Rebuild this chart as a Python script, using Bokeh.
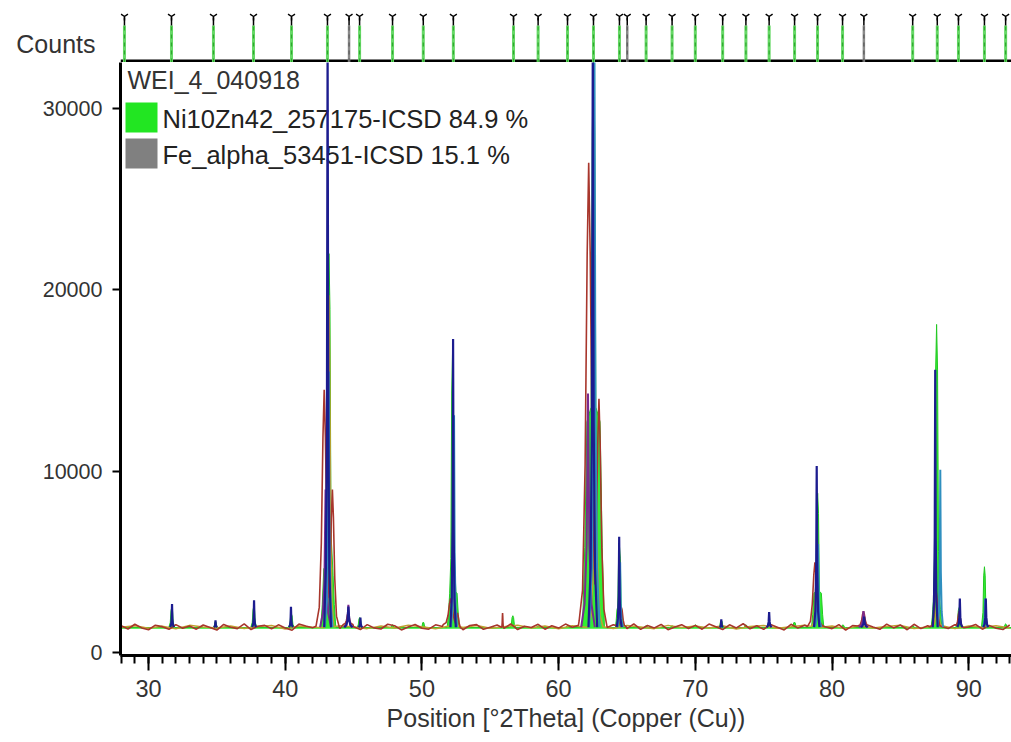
import numpy as np
from bokeh.plotting import figure
from bokeh.layouts import column
from bokeh.models import Range1d, FixedTicker
from bokeh.embed import file_html
from bokeh.resources import INLINE
from bokeh.core.properties import value

FONT = "Liberation Sans"

# ---------------- data ----------------
x_ticks = [30, 40, 50, 60, 70, 80, 90]
y_ticks = [0, 10000, 20000, 30000]
x_label = "Position [°2Theta] (Copper (Cu))"
y_label = "Counts"
scan_name = "WEI_4_040918"
phase_names = ["Ni10Zn42_257175-ICSD 84.9 %", "Fe_alpha_53451-ICSD 15.1 %"]
phase_colors = ["#22e622", "#808080"]

# reference line positions (°2Theta)
ni_ref_pos = [28.24, 31.68, 34.75, 37.68, 40.46, 43.09, 45.44, 47.85, 50.10, 52.30,
              56.70, 58.50, 60.65, 62.55, 64.45, 66.40, 68.30, 70.00, 72.00, 73.70,
              75.40, 77.26, 78.94, 80.77, 85.90, 87.70, 89.25, 91.15, 92.70]
fe_ref_pos = [44.67, 65.02, 82.33]

# calculated Ni10Zn42 profile (green fill): narrow components
green_pos = [31.70, 34.90, 37.70, 40.45, 43.20, 45.45, 47.85, 50.10, 52.24,
             56.65, 58.50, 60.65, 62.55, 64.45, 66.40, 68.30, 70.00, 71.90, 73.70,
             75.40, 77.25, 78.95, 80.80, 85.90, 87.65, 89.30, 91.15, 92.70]
green_int = [2500, 1750, 2550, 2150, 22000, 1950, 1550, 1700, 16600,
             2050, 1500, 1500, 33500, 5900, 1500, 1500, 1550, 1800, 1550,
             1700, 1700, 8800, 1550, 1500, 18100, 2500, 4750, 1600]
green_hw = [0.22, 0.18, 0.22, 0.22, 0.30, 0.22, 0.18, 0.18, 0.25,
            0.22, 0.18, 0.18, 0.35, 0.25, 0.18, 0.18, 0.18, 0.22, 0.18,
            0.22, 0.22, 0.25, 0.18, 0.18, 0.28, 0.25, 0.22, 0.18]
# broad foot components of the calculated profile
green_foot_pos = [43.15, 52.30, 62.55, 64.45, 78.95, 87.65]
green_foot_int = [5000, 3500, 14000, 2500, 3500, 3000]
green_foot_hw = [0.55, 0.45, 0.80, 0.30, 0.45, 0.40]
green_base = 1400

# observed scan (navy)
navy_pos = [31.72, 34.90, 37.72, 40.42, 43.10, 44.62, 45.50, 52.28, 62.50, 64.43,
            71.90, 75.40, 78.88, 82.35, 87.55, 89.35, 91.25]
navy_int = [2700, 1800, 2900, 2550, 34000, 2550, 1950, 17300, 34000, 6400,
            1850, 2250, 10300, 2000, 15600, 3000, 3000]
navy_hw = [0.14, 0.12, 0.14, 0.14, 0.25, 0.30, 0.14, 0.20, 0.32, 0.18,
           0.12, 0.18, 0.20, 0.25, 0.18, 0.18, 0.18]

# teal scan
teal_pos = [43.18, 52.35, 62.62, 64.50, 78.98, 87.92, 91.20]
teal_int = [15500, 13100, 34000, 5000, 6000, 10100, 3000]
teal_hw = [0.28, 0.22, 0.38, 0.20, 0.22, 0.20, 0.18]

# purple scan
purple_pos = [42.95, 44.62, 62.15, 82.30]
purple_int = [9000, 2650, 14300, 2300]
purple_hw = [0.40, 0.32, 0.50, 0.35]

# olive scan (noisy baseline, 1° steps from 28°)
olive_pos = [43.20, 52.35, 62.70, 78.85, 87.70]
olive_int = [19700, 3500, 9000, 4000, 3000]
olive_hw = [0.35, 0.35, 0.55, 0.35, 0.35]
olive_base = [1420, 1500, 1360, 1470, 1330, 1520, 1430, 1380, 1490, 1350, 1460,
              1510, 1320, 1480, 1410, 1370, 1500, 1430, 1340, 1490, 1380, 1530,
              1450, 1330, 1480, 1400, 1510, 1360, 1440, 1530, 1370, 1480, 1330,
              1500, 1410, 1460, 1350, 1510, 1430, 1340, 1520, 1400, 1480, 1370,
              1500, 1320, 1460, 1510, 1360, 1440, 1530, 1400, 1480, 1340, 1500,
              1380, 1460, 1520, 1350, 1430, 1510, 1340, 1480, 1410, 1500, 1380]

# red scan (broad peaks, noisy baseline, 0.5° steps from 28°)
red_pos = [42.85, 43.45, 44.60, 52.10, 52.60, 55.90, 62.20, 62.95, 64.60,
           78.75, 82.30, 87.60, 89.30]
red_int = [14500, 9000, 2200, 3000, 2200, 2200, 27000, 14000, 2500,
           5000, 2300, 3500, 2300]
red_hw = [0.60, 0.50, 0.35, 0.55, 0.35, 0.08, 0.75, 0.60, 0.35,
          0.55, 0.40, 0.45, 0.35]
red_base = [1500, 1320, 1580, 1380, 1280, 1530, 1450, 1300, 1560, 1360, 1490,
            1310, 1540, 1400, 1260, 1570, 1420, 1340, 1600, 1290, 1470, 1520,
            1330, 1550, 1370, 1250, 1590, 1480, 1390, 1300, 1540, 1410, 1350,
            1600, 1440, 1290, 1560, 1380, 1320, 1580, 1500, 1270, 1430, 1570,
            1360, 1310, 1550, 1460, 1610, 1340, 1280, 1510, 1560, 1300, 1420,
            1540, 1350, 1600, 1290, 1470, 1400, 1580, 1310, 1500, 1370, 1590,
            1420, 1530, 1320, 1570, 1390, 1260, 1550, 1460, 1340, 1600, 1300,
            1510, 1380, 1570, 1280, 1430, 1560, 1350, 1520, 1310, 1590, 1450,
            1290, 1550, 1380, 1610, 1330, 1500, 1300, 1570, 1420, 1270, 1580,
            1370, 1530, 1310, 1600, 1440, 1340, 1560, 1260, 1510, 1350, 1570,
            1430, 1300, 1590, 1380, 1540, 1280, 1580, 1340, 1500, 1310, 1460,
            1350, 1560, 1270, 1430, 1570, 1310, 1520, 1360, 1290, 1540]

# ---------------- layout constants ----------------
PPU = 13.67            # px per degree
X0 = 27.95
FRAME_W = 891
X1 = X0 + FRAME_W / PPU
Y0, Y1 = -140, 32530
FRAME_H = 593
PPY = FRAME_H / (Y1 - Y0)
LEFT = 120
TOP_H = 62

# peak templates (fractions of half width / height)
FX_S = [-1.0, -0.5, -0.2, 0.0, 0.2, 0.5, 1.0]
FY_S = [0.0, 0.10, 0.35, 1.0, 0.35, 0.10, 0.0]
FX_G = [-1.0, -0.6, -0.35, -0.15, 0.0, 0.15, 0.35, 0.6, 1.0]
FY_G = [0.0, 0.08, 0.35, 0.8, 1.0, 0.8, 0.35, 0.08, 0.0]
FX_C = [-1.0, -0.5, -0.25, 0.0, 0.25, 0.5, 1.0]
FY_C = [0.0, 0.25, 0.85, 1.0, 0.85, 0.25, 0.0]
FX_B = [-1.0, -0.8, -0.6, 0.0, 0.6, 0.8, 1.0]
FY_B = [0.0, 0.35, 0.9, 1.0, 0.9, 0.35, 0.0]


def profile(bx, by, comps):
    """comps: list of (pos, inten, hw, fx, fy) tables"""
    bx = np.asarray(bx, float)
    by = np.asarray(by, float)
    xs = set(bx.tolist())
    for pos, inten, hw, fx, fy in comps:
        for c, w in zip(pos, hw):
            xs.update(c + f * w for f in fx)
    xs = np.array(sorted(xs))
    out = np.interp(xs, bx, by)
    for pos, inten, hw, fx, fy in comps:
        for c, h, w in zip(pos, inten, hw):
            b = np.interp(c, bx, by)
            py = np.interp(xs, [c + f * w for f in fx], [b + g * (h - b) for g in fy],
                           left=-np.inf, right=-np.inf)
            out = np.maximum(out, py)
    return xs, out


def peaks(pos, inten, hw, base=1420):
    xs = [[c + f * w for f in FX_S] for c, w in zip(pos, hw)]
    ys = [[base + g * (h - base) for g in FY_S] for h in inten]
    return xs, ys


def px_x(px):
    return X0 + (px - LEFT) / PPU


def px_y(py):
    return Y1 - (py - TOP_H) / PPY


# ---------------- main figure ----------------
p = figure(frame_width=FRAME_W, frame_height=FRAME_H,
           x_range=Range1d(X0, X1), y_range=Range1d(Y0, Y1),
           output_backend="svg", toolbar_location=None,
           min_border_left=LEFT, min_border_right=0, min_border_top=0,
           min_border_bottom=84)
p.outline_line_color = None
p.grid.visible = False

# legend (drawn first so traces pass over it)
p.text(x=[px_x(127)], y=[px_y(79)], text=[scan_name], text_font=value(FONT),
       text_font_size="25px", text_baseline="middle", text_align="left",
       text_color="#333333")
sq_top = [px_y(102), px_y(138)]
sq_bot = [px_y(132), px_y(168)]
p.quad(left=px_x(125), right=px_x(157), top=sq_top, bottom=sq_bot,
       fill_color=phase_colors, line_color=None)
p.text(x=[px_x(162)] * 2, y=[px_y(118), px_y(154)], text=phase_names,
       text_font=value(FONT), text_font_size="25.5px", text_baseline="middle",
       text_align="left", text_color="#222222")

# green calculated profile
gx, gy = profile([X0 - 1, X1 + 1], [green_base, green_base],
                 [(green_pos, green_int, green_hw, FX_C, FY_C),
                  (green_foot_pos, green_foot_int, green_foot_hw, FX_B, FY_B)])
p.varea(x=gx, y1=1330, y2=gy, fill_color="#33ee33")
p.line(gx, gy, line_color="#22c822", line_width=1)

# olive
ox = 28.0 + 1.0 * np.arange(len(olive_base))
oxs, oys = profile(ox, olive_base, [(olive_pos, olive_int, olive_hw, FX_G, FY_G)])
p.line(oxs, oys, line_color="#c0a030", line_width=1.5)

# red
rx = 28.0 + 0.5 * np.arange(len(red_base))
rxs, rys = profile(rx, red_base, [(red_pos, red_int, red_hw, FX_G, FY_G)])
p.line(rxs, rys, line_color="#a8362c", line_width=1.6)

# purple, teal, navy
for pos, inten, hw, col, lw in [(purple_pos, purple_int, purple_hw, "#7a2a90", 2),
                                (teal_pos, teal_int, teal_hw, "#2f8fbf", 2),
                                (navy_pos, navy_int, navy_hw, "#1c1c8f", 2.2)]:
    xs, ys = peaks(pos, inten, hw)
    p.multi_line(xs, ys, line_color=col, line_width=lw)

# axes
for ax in (p.xaxis, p.yaxis):
    ax.axis_line_width = 3
    ax.axis_line_color = "black"
    ax.major_tick_line_width = 2
    ax.minor_tick_line_width = 2
    ax.major_tick_line_color = "black"
    ax.major_tick_in = 0
    ax.minor_tick_in = 0
    ax.major_label_text_font = FONT
    ax.major_label_text_color = "#333333"

p.xaxis.major_label_text_font_size = "23.5px"
p.yaxis.major_label_text_font_size = "21.5px"

p.xaxis.ticker = FixedTicker(ticks=x_ticks, minor_ticks=list(range(28, 94)))
p.xaxis.major_tick_out = 15
p.xaxis.minor_tick_out = 8
p.xaxis.minor_tick_line_color = "black"
p.xaxis.major_label_standoff = 9
p.xaxis.axis_label = x_label
p.xaxis.axis_label_text_font = FONT
p.xaxis.axis_label_text_font_size = "25px"
p.xaxis.axis_label_text_font_style = "normal"
p.xaxis.axis_label_text_color = "#333333"
p.xaxis.axis_label_standoff = 4

p.yaxis.ticker = FixedTicker(ticks=y_ticks)
p.yaxis.major_tick_out = 8
p.yaxis.minor_tick_out = 0
p.yaxis.minor_tick_line_color = None
p.yaxis.major_label_standoff = 10

# ---------------- top (reference markers) figure ----------------
t = figure(frame_width=FRAME_W, frame_height=TOP_H,
           x_range=Range1d(X0, X1), y_range=Range1d(0, TOP_H),
           output_backend="svg", toolbar_location=None,
           min_border_left=LEFT, min_border_right=0, min_border_top=0, min_border_bottom=0)
t.xaxis.visible = False
t.grid.visible = False
t.outline_line_color = None

# "Counts" title rendered as the single label of the top panel's left axis
t.yaxis.ticker = FixedTicker(ticks=[19])
t.yaxis.major_label_overrides = {19: y_label}
t.yaxis.axis_line_color = None
t.yaxis.major_tick_line_color = None
t.yaxis.minor_tick_line_color = None
t.yaxis.major_tick_out = 0
t.yaxis.minor_tick_out = 0
t.yaxis.major_label_standoff = 25
t.yaxis.major_label_text_font = FONT
t.yaxis.major_label_text_font_size = "25px"
t.yaxis.major_label_text_color = "#333333"

t.segment(x0=X0, y0=1.5, x1=X1, y1=1.5, line_color="black", line_width=3)

t.segment(x0=ni_ref_pos, y0=0, x1=ni_ref_pos, y1=37, line_color="#66d866", line_width=3)
t.segment(x0=ni_ref_pos, y0=0, x1=ni_ref_pos, y1=37, line_color="#2ea82e",
          line_width=1.2, line_dash="4 4")
t.segment(x0=fe_ref_pos, y0=0, x1=fe_ref_pos, y1=37, line_color="#8a8a8a", line_width=2.5)
t.segment(x0=fe_ref_pos, y0=0, x1=fe_ref_pos, y1=37, line_color="#5a5a5a",
          line_width=1.2, line_dash="4 4")
all_ref = ni_ref_pos + fe_ref_pos
t.segment(x0=all_ref, y0=37, x1=all_ref, y1=45, line_color="black", line_width=1.5)
t.scatter(x=all_ref, y=[46] * len(all_ref), marker="y", size=8,
          line_color="black", line_width=1.5)

layout = column(t, p)
open("out.html", "w").write(file_html(layout, INLINE))
